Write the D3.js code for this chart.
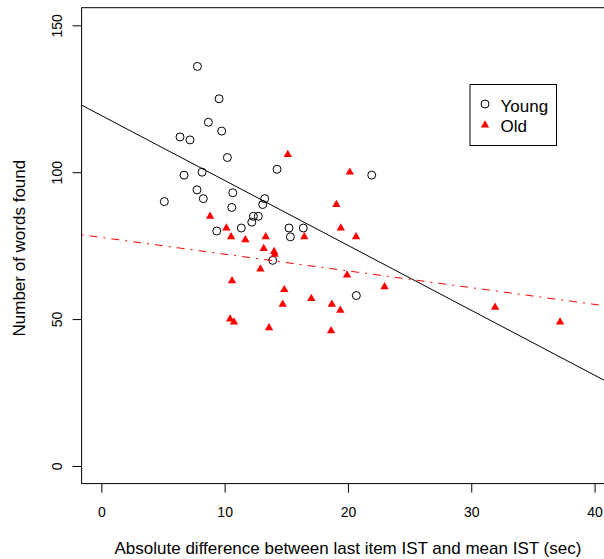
<!DOCTYPE html>
<html>
<head>
<meta charset="utf-8">
<script src="https://cdn.jsdelivr.net/npm/d3@7"></script>
<style>
  html, body { margin: 0; padding: 0; background: #fff; }
  svg { display: block; font-family: "Liberation Sans", Arial, Helvetica, sans-serif; }
</style>
</head>
<body>
<svg id="chart" width="604" height="559"></svg>
<script>
// young group: [gap in sec, words found]
const youngX = [7.79, 9.55, 8.68, 9.76, 6.38, 7.19, 10.22, 14.25, 6.71, 8.17, 7.76, 8.27, 10.66, 5.11,
  13.25, 13.09, 10.58, 12.33, 12.73, 12.20, 11.35, 9.36, 15.22, 16.38, 21.93, 15.33, 13.90, 20.68];
const youngY = [136, 125, 117, 114, 112, 111, 105, 101, 99, 100, 94, 91, 93, 90,
  91, 89, 88, 85, 85, 83, 81, 80, 81, 81, 99, 78, 70, 58];

const oldX = [15.12, 20.15, 19.06, 8.82, 10.14, 19.42, 10.52, 11.68, 13.33, 16.46, 20.66, 13.17, 14.01, 14.06,
  12.90, 19.93, 22.97, 10.60, 14.84, 17.03, 14.71, 18.69, 19.38, 10.44, 10.76, 13.60, 18.63, 31.93, 37.20];
const oldY = [106, 100, 89, 85, 81, 81, 78, 77, 78, 78, 78, 74, 73, 72,
  67, 65, 61, 63, 60, 57, 55, 55, 53, 50, 49, 47, 46, 54, 49];

// fitted lines [intercept, slope]
const youngFit = [119.3, -2.21];
const oldFit = [77.8, -0.57];

const xTicks = [0, 10, 20, 30, 40];
const yTicks = [0, 50, 100, 150];
const legendLabels = ["Young", "Old"];

const svg = d3.select("#chart");

const x = d3.scaleLinear().domain([-1.6, 41.6]).range([81.6, 614.3]);
const y = d3.scaleLinear().domain([-6, 156]).range([483.6, 7.7]);

const pLeft = x.range()[0], pRight = x.range()[1];
const pTop = y.range()[1], pBottom = y.range()[0];

svg.append("defs").append("clipPath").attr("id", "plotclip")
  .append("rect")
  .attr("x", pLeft).attr("y", pTop)
  .attr("width", pRight - pLeft).attr("height", pBottom - pTop);

// box
svg.append("rect")
  .attr("x", pLeft).attr("y", pTop)
  .attr("width", pRight - pLeft).attr("height", pBottom - pTop)
  .attr("fill", "none").attr("stroke", "#000").attr("stroke-width", 1);

// x axis
const xAxis = svg.append("g")
  .attr("transform", `translate(0,${pBottom})`)
  .call(d3.axisBottom(x).tickValues(xTicks).tickSize(9).tickFormat(d3.format("d")));
xAxis.select(".domain").remove();
xAxis.selectAll("text")
  .attr("font-size", 14).attr("fill", "#000").attr("font-family", null)
  .attr("y", 33.5).attr("dy", null);

// y axis (labels rotated like R)
const yAxis = svg.append("g")
  .attr("transform", `translate(${pLeft},0)`)
  .call(d3.axisLeft(y).tickValues(yTicks).tickSize(9).tickFormat(d3.format("d")));
yAxis.select(".domain").remove();
yAxis.selectAll("text")
  .attr("font-size", 14).attr("fill", "#000").attr("font-family", null)
  .attr("x", null).attr("dy", null)
  .attr("text-anchor", "middle")
  .attr("transform", "translate(-20,0) rotate(-90)");

// axis titles
svg.append("text")
  .attr("x", (pLeft + pRight) / 2).attr("y", 554)
  .attr("text-anchor", "middle").attr("font-size", 17)
  .text("Absolute difference between last item IST and mean IST (sec)");

svg.append("text")
  .attr("transform", `translate(25,${(pTop + pBottom) / 2 + 2.5}) rotate(-90)`)
  .attr("text-anchor", "middle").attr("font-size", 17)
  .text("Number of words found");

// regression lines
const plot = svg.append("g").attr("clip-path", "url(#plotclip)");
const xd = x.domain();

function fitLine(fit, color, dash) {
  const p = plot.append("line")
    .attr("x1", x(xd[0])).attr("y1", y(fit[0] + fit[1] * xd[0]))
    .attr("x2", x(xd[1])).attr("y2", y(fit[0] + fit[1] * xd[1]))
    .attr("stroke", color).attr("stroke-width", 1);
  if (dash) p.attr("stroke-dasharray", dash);
}
fitLine(youngFit, "#000", null);
fitLine(oldFit, "#ff0000", "2,6,8,6");

// points
const tri = d3.symbol().type({
  draw(ctx) {
    const r = 3.1, rt = 1.555 * r, hw = 1.347 * r;
    ctx.moveTo(0, -rt);
    ctx.lineTo(hw, rt / 2);
    ctx.lineTo(-hw, rt / 2);
    ctx.closePath();
  }
});

plot.selectAll("circle.young")
  .data(d3.zip(youngX, youngY))
  .join("circle")
  .attr("class", "young")
  .attr("cx", d => x(d[0])).attr("cy", d => y(d[1]))
  .attr("r", 4)
  .attr("fill", "none").attr("stroke", "#000").attr("stroke-width", 1);

plot.selectAll("path.old")
  .data(d3.zip(oldX, oldY))
  .join("path")
  .attr("class", "old")
  .attr("d", tri)
  .attr("transform", d => `translate(${x(d[0])},${y(d[1])})`)
  .attr("fill", "#ff0000");

// legend
const lg = svg.append("g");
lg.append("rect")
  .attr("x", 470).attr("y", 84.5).attr("width", 86.5).attr("height", 61)
  .attr("fill", "#fff").attr("stroke", "#000").attr("stroke-width", 1);
lg.append("circle").attr("cx", 485).attr("cy", 104).attr("r", 4)
  .attr("fill", "none").attr("stroke", "#000");
lg.append("path").attr("d", tri).attr("transform", "translate(485,125)").attr("fill", "#ff0000");
lg.selectAll("text.lab")
  .data(legendLabels)
  .join("text")
  .attr("class", "lab")
  .attr("x", 500.5).attr("y", (d, i) => 111.7 + i * 20)
  .attr("font-size", 17)
  .text(d => d);
</script>
</body>
</html>
